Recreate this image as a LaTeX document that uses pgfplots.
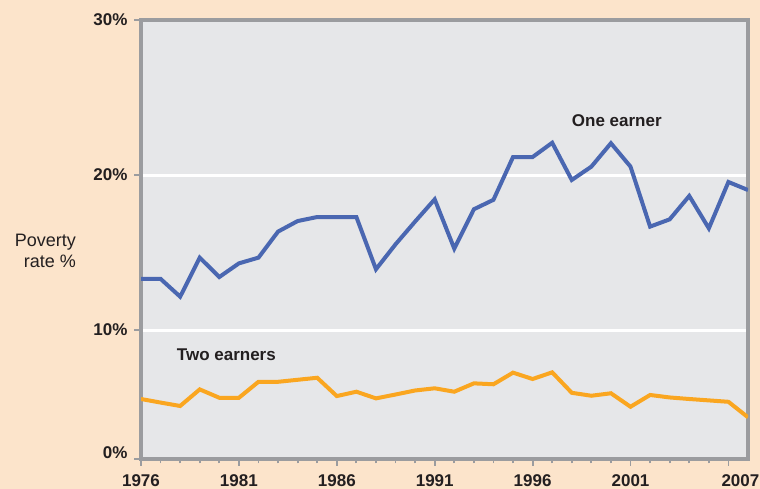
\documentclass[border=0pt]{standalone}
\usepackage{pgfplots}
\pgfplotsset{compat=1.18}
\usepackage{fontspec}
\setmainfont{Liberation Sans}
\definecolor{peach}{HTML}{FCE4CB}
\definecolor{plotbg}{HTML}{E6E7E9}
\definecolor{axgray}{HTML}{9B9C9F}
\definecolor{lblue}{HTML}{4A67B1}
\definecolor{lorange}{HTML}{FAA620}
\definecolor{txt}{HTML}{231F20}
\begin{document}
\begin{tikzpicture}[x=1pt,y=1pt]
\fill[peach] (0,0) rectangle (760,489);
\begin{axis}[
  at={(141pt,30pt)}, anchor=south west,
  scale only axis, width=607pt, height=439pt,
  xmin=1976, xmax=2007, ymin=1.68, ymax=30,
  axis background/.style={fill=plotbg},
  axis line style={draw=axgray, line width=3.5pt},
  every tick/.style={draw=axgray, line width=1.8pt},
  tick align=outside, xtick pos=bottom, ytick pos=left,
  major tick length=7pt, minor tick length=4.5pt,
  xtick={1976,1981,1986,1991,1996,2001},
  xticklabels={1976,1981,1986,1991,1996,2001},
  minor xtick={1977,1978,1979,1980,1982,1983,1984,1985,1987,1988,1989,1990,1992,1993,1994,1995,1997,1998,1999,2000,2002,2003,2004,2005},
  extra x ticks={2006}, extra x tick labels={2007},
  extra x tick style={xticklabel style={xshift=12pt}},
  ytick={10,20,30},
  yticklabels={10\%,20\%,30\%},
  extra y ticks={1.68}, extra y tick labels={0\%},
  extra y tick style={yticklabel style={yshift=6pt}, ymajorgrids=false},
  ymajorgrids, grid style={draw=white, line width=3pt},
  /pgf/number format/assume math mode=true,
  ticklabel style={font=\fontsize{17}{20}\selectfont\bfseries, text=txt},
  yticklabel style={xshift=-3pt},
  xticklabel style={yshift=-5pt},
  clip=true,
]
\addplot[lblue, line width=4pt, line join=miter] coordinates {
(1976,13.3) (1977,13.3) (1978,12.15) (1979,14.67) (1980,13.42) (1981,14.3)
(1982,14.67) (1983,16.35) (1984,17.03) (1985,17.29) (1986,17.29) (1987,17.29)
(1988,13.92) (1989,15.53) (1990,17.0) (1991,18.43) (1992,15.25) (1993,17.79)
(1994,18.4) (1995,21.16) (1996,21.16) (1997,22.08) (1998,19.68) (1999,20.54)
(2000,22.05) (2001,20.54) (2002,16.67) (2003,17.14) (2004,18.65) (2005,16.56)
(2006,19.55) (2007,19.03)
};
\addplot[lorange, line width=4pt, line join=miter] coordinates {
(1976,5.55) (1977,5.32) (1978,5.10) (1979,6.17) (1980,5.63) (1981,5.63)
(1982,6.66) (1983,6.66) (1984,6.79) (1985,6.92) (1986,5.74) (1987,6.02)
(1988,5.59) (1989,5.84) (1990,6.10) (1991,6.24) (1992,6.02) (1993,6.56)
(1994,6.50) (1995,7.25) (1996,6.84) (1997,7.27) (1998,5.95) (1999,5.76)
(2000,5.92) (2001,5.05) (2002,5.81) (2003,5.65) (2004,5.55) (2005,5.46)
(2006,5.37) (2007,4.37)
};
\node[font=\fontsize{17}{20}\selectfont\bfseries, text=txt] at (axis cs:2000.3,23.5) {One earner};
\node[font=\fontsize{17}{20}\selectfont\bfseries, text=txt] at (axis cs:1980.36,8.39) {Two earners};
\end{axis}
\node[anchor=east, align=right, font=\fontsize{18}{21}\selectfont, text=txt, inner sep=0pt] at (76,238.5) {Poverty\\rate \%};
\pgfresetboundingbox
\path[use as bounding box] (0,0) rectangle (760,489);
\end{tikzpicture}
\end{document}
